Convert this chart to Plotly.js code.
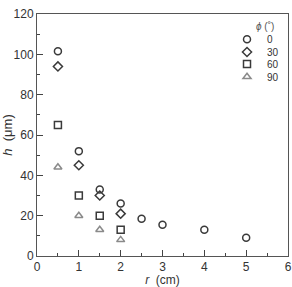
<!DOCTYPE html>
<html>
<head>
<meta charset="utf-8">
<script src="https://cdn.plot.ly/plotly-3.0.1.min.js"></script>
<style>html,body{margin:0;padding:0;background:#fff;}</style>
</head>
<body>
<div id="chart" style="width:292px;height:287px;"></div>
<script>
var r0 = [0.5, 1, 1.5, 2, 2.5, 3, 4, 5];
var h0 = [101.5, 52, 33, 26, 18.5, 15.5, 13, 9];
var r30 = [0.5, 1, 1.5, 2];
var h30 = [94, 45, 30, 21];
var r60 = [0.5, 1, 1.5, 2];
var h60 = [65, 30, 20, 13];
var r90 = [0.5, 1, 1.5, 2];
var h90 = [44, 20, 13, 8];
var seriesNames = ['0', '30', '60', '90'];

var dark = '#3a3a3a';
var grey = '#8a8a8a';
function tr(x, y, name, sym, col, size, leg) {
  return {x: x, y: y, name: name, type: 'scatter', mode: 'markers', legend: leg,
    marker: {symbol: sym, size: size, color: col, line: {width: 1.5, color: col}}};
}
var data = [
  tr(r0, h0, seriesNames[0], 'circle-open', dark, 7, 'legend'),
  tr(r30, h30, seriesNames[1], 'diamond-open', dark, 7, 'legend2'),
  tr(r60, h60, seriesNames[2], 'square-open', dark, 7, 'legend3'),
  tr(r90, h90, seriesNames[3], 'triangle-up-open', grey, 7, 'legend4')
];
var fam = 'Liberation Sans, Arial, sans-serif';
var fnt = {family: fam, size: 12, color: '#333'};
function leg(y) {
  return {x: 0.757, y: y, xanchor: 'left', yanchor: 'middle', bgcolor: 'rgba(0,0,0,0)',
    font: {family: fam, size: 10, color: '#333'}, borderwidth: 0};
}
var layout = {
  width: 292, height: 287,
  margin: {l: 37, r: 4, t: 14, b: 27},
  paper_bgcolor: '#fff', plot_bgcolor: '#fff',
  font: fnt,
  showlegend: true,
  legend: leg(0.896),
  legend2: leg(0.843),
  legend3: leg(0.793),
  legend4: leg(0.741),
  annotations: [{xref: 'paper', yref: 'paper', x: 0.91, y: 0.95, xanchor: 'center', yanchor: 'middle',
    text: '<i>ϕ</i> (˚)', showarrow: false, font: {family: fam, size: 10, color: '#555'}}],
  xaxis: {range: [0, 6], dtick: 1, ticks: 'inside', ticklen: 6, tickwidth: 1, tickcolor: '#444',
    showline: true, linecolor: '#555', linewidth: 1, mirror: true, showgrid: false, zeroline: false,
    minor: {dtick: 0.5, ticks: 'inside', ticklen: 3, tickcolor: '#444'},
    tickfont: fnt, automargin: 'bottom',
    title: {text: '<i>r</i>  (cm)', font: {family: fam, size: 12, color: '#333'}, standoff: 0}},
  yaxis: {range: [0, 120], dtick: 20, ticks: 'inside', ticklen: 6, tickwidth: 1, tickcolor: '#444',
    showline: true, linecolor: '#555', linewidth: 1, mirror: true, showgrid: false, zeroline: false,
    minor: {dtick: 10, ticks: 'inside', ticklen: 3, tickcolor: '#444'},
    tickfont: fnt,
    title: {text: '<i>h</i>  (μm)', font: {family: fam, size: 13, color: '#333'}, standoff: 2}}
};
Plotly.newPlot('chart', data, layout, {displayModeBar: false, staticPlot: true});
</script>
</body>
</html>
